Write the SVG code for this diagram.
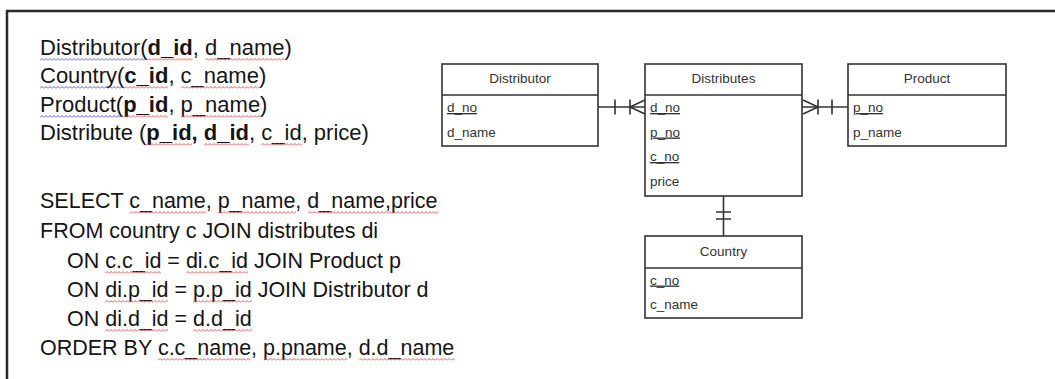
<svg xmlns="http://www.w3.org/2000/svg" width="1055" height="379" viewBox="0 0 1055 379">
<style>
.t{font-family:"Liberation Sans",Arial,sans-serif;font-size:22px;fill:#151515}
.q{font-family:"Liberation Sans",Arial,sans-serif;font-size:21.5px;fill:#151515}
.b{font-weight:bold}
.er{font-family:"Liberation Sans",Arial,sans-serif;font-size:13.5px;fill:#333}
.hd{text-anchor:middle}
.u{text-decoration:underline}
.box{fill:#fff;stroke:#333;stroke-width:1.6}
.div{stroke:#333;stroke-width:1.6}
.conn{stroke:#333;stroke-width:1.6;fill:none}
.frame{stroke:#2a2a2a;stroke-width:2.5;fill:none}
</style>
<defs>
<pattern id="wr" width="4" height="3" patternUnits="userSpaceOnUse"><path d="M0,2.5 L2,0.5 L4,2.5" fill="none" stroke="#e8443c" stroke-width="0.9"/></pattern>
<pattern id="wb" width="4" height="3" patternUnits="userSpaceOnUse"><path d="M0,2.5 L2,0.5 L4,2.5" fill="none" stroke="#4545f0" stroke-width="0.9"/></pattern>
</defs>
<rect width="1055" height="379" fill="#fff"/>
<path class="frame" d="M7,379 V11 H1055"/>

<g id="schema">
<text class="t" x="40" y="55">Distributor(<tspan class="b">d_id</tspan>, d_name)</text>
<text class="t" x="40" y="83">Country(<tspan class="b">c_id</tspan>, c_name)</text>
<text class="t" x="40" y="112">Product(<tspan class="b">p_id</tspan>, p_name)</text>
<text class="t" x="40" y="140">Distribute (<tspan class="b">p_id, d_id</tspan>, c_id, price)</text>
</g>

<g id="query">
<text class="q" x="40" y="208">SELECT c_name, p_name, d_name,price</text>
<text class="q" x="40" y="238">FROM country c JOIN distributes di</text>
<text class="q" x="67" y="268">ON c.c_id = di.c_id JOIN Product p</text>
<text class="q" x="67" y="297">ON di.p_id = p.p_id JOIN Distributor d</text>
<text class="q" x="67" y="326">ON di.d_id = d.d_id</text>
<text class="q" x="40" y="355">ORDER BY c.c_name, p.pname, d.d_name</text>
</g>

<g id="squiggles">
<rect transform="translate(40,58)" width="107.5" height="3" fill="url(#wb)"/>
<rect transform="translate(147.5,58)" width="45" height="3" fill="url(#wr)"/>
<rect transform="translate(205,58)" width="79.5" height="3" fill="url(#wr)"/>
<rect transform="translate(40,86)" width="84" height="3" fill="url(#wb)"/>
<rect transform="translate(124,86)" width="44" height="3" fill="url(#wr)"/>
<rect transform="translate(181,86)" width="78" height="3" fill="url(#wr)"/>
<rect transform="translate(40,115)" width="83" height="3" fill="url(#wb)"/>
<rect transform="translate(123,115)" width="45" height="3" fill="url(#wr)"/>
<rect transform="translate(181,115)" width="79" height="3" fill="url(#wr)"/>
<rect transform="translate(146,143)" width="46" height="3" fill="url(#wr)"/>
<rect transform="translate(204,143)" width="45" height="3" fill="url(#wr)"/>
<rect transform="translate(261,143)" width="41" height="3" fill="url(#wr)"/>
<rect transform="translate(130,211)" width="76" height="3" fill="url(#wr)"/>
<rect transform="translate(218,211)" width="78" height="3" fill="url(#wr)"/>
<rect transform="translate(308,211)" width="130" height="3" fill="url(#wr)"/>
<rect transform="translate(105,271)" width="56" height="3" fill="url(#wr)"/>
<rect transform="translate(186,271)" width="62" height="3" fill="url(#wr)"/>
<rect transform="translate(105,300)" width="63" height="3" fill="url(#wr)"/>
<rect transform="translate(193,300)" width="59" height="3" fill="url(#wr)"/>
<rect transform="translate(105,329)" width="63" height="3" fill="url(#wr)"/>
<rect transform="translate(193,329)" width="59" height="3" fill="url(#wr)"/>
<rect transform="translate(158,358)" width="93" height="3" fill="url(#wr)"/>
<rect transform="translate(264,358)" width="83" height="3" fill="url(#wr)"/>
<rect transform="translate(359,358)" width="96" height="3" fill="url(#wr)"/>
</g>

<g id="connectors">
<path class="conn" d="M598,107 H645"/>
<path class="conn" d="M615,99.5 V114.5 M630,99.5 V114.5 M645,100 L630,107 L645,114"/>
<path class="conn" d="M802,107 H848"/>
<path class="conn" d="M803,100 L818,107 L803,114 M818,99.5 V114.5 M832,99.5 V114.5"/>
<path class="conn" d="M723.5,196 V236"/>
<path class="conn" d="M716,212 H731 M716,219 H731"/>
</g>

<g id="distributor">
<rect class="box" x="442" y="64" width="156" height="82"/>
<line class="div" x1="442" y1="95" x2="598" y2="95"/>
<text class="er hd" x="520" y="83">Distributor</text>
<text class="er u" x="447" y="112">d_no</text>
<text class="er" x="447" y="136.5">d_name</text>
</g>

<g id="distributes">
<rect class="box" x="645" y="64" width="157" height="132"/>
<line class="div" x1="645" y1="95" x2="802" y2="95"/>
<text class="er hd" x="723.5" y="83">Distributes</text>
<text class="er u" x="650" y="112">d_no</text>
<text class="er u" x="650" y="136.5">p_no</text>
<text class="er u" x="650" y="161">c_no</text>
<text class="er" x="650" y="185.5">price</text>
</g>

<g id="product">
<rect class="box" x="848" y="64" width="158" height="82"/>
<line class="div" x1="848" y1="95" x2="1006" y2="95"/>
<text class="er hd" x="927" y="83">Product</text>
<text class="er u" x="853" y="112">p_no</text>
<text class="er" x="853" y="136.5">p_name</text>
</g>

<g id="country">
<rect class="box" x="645" y="236" width="157" height="82"/>
<line class="div" x1="645" y1="268" x2="802" y2="268"/>
<text class="er hd" x="723.5" y="255.5">Country</text>
<text class="er u" x="650" y="284.5">c_no</text>
<text class="er" x="650" y="309">c_name</text>
</g>
</svg>
